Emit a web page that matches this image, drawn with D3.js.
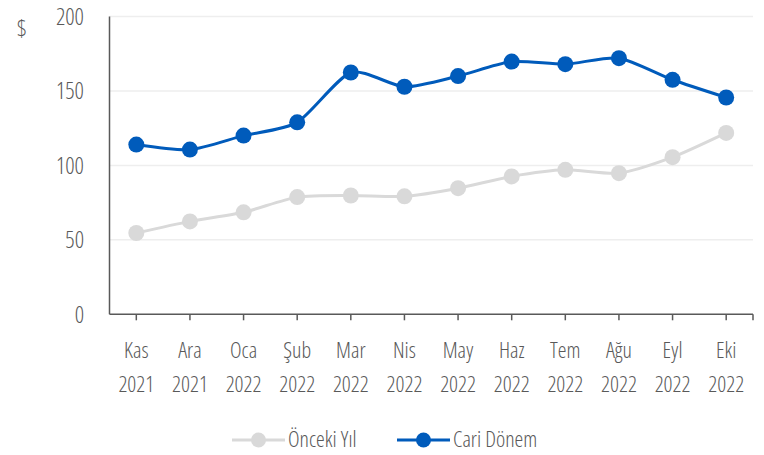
<!DOCTYPE html>
<html>
<head>
<meta charset="utf-8">
<script src="https://cdn.jsdelivr.net/npm/d3@7"></script>
<style>
  body { margin: 0; background: #fff; }
  text { font-family: "Open Sans", sans-serif; font-stretch: 75%; font-weight: 350; fill: #595959; }
</style>
</head>
<body>
<div id="chart"></div>
<script>
var months = ["Kas", "Ara", "Oca", "Şub", "Mar", "Nis", "May", "Haz", "Tem", "Ağu", "Eyl", "Eki"];
var years = ["2021", "2021", "2022", "2022", "2022", "2022", "2022", "2022", "2022", "2022", "2022", "2022"];
var prevYear = [54.6, 62.4, 68.5, 78.7, 79.8, 79.2, 84.7, 92.6, 97, 94.8, 105.5, 121.8];
var current = [114, 110.6, 120, 128.9, 162.4, 152.8, 160, 169.7, 168, 172, 157.5, 145.6];
var yTicks = [0, 50, 100, 150, 200];

var width = 764, height = 455;
var margin = { top: 16.5, right: 11, bottom: 140.7, left: 109.5 };

var svg = d3.select("#chart").append("svg")
    .attr("width", width)
    .attr("height", height);

var x = d3.scaleBand()
    .domain(months.map(function(d, i) { return i; }))
    .range([margin.left, width - margin.right])
    .padding(0);

var y = d3.scaleLinear()
    .domain([0, 200])
    .range([height - margin.bottom, margin.top]);

var cx = function(i) { return x(i) + x.bandwidth() / 2; };

// gridlines
svg.append("g")
    .selectAll("line")
    .data(yTicks.filter(function(d) { return d > 0; }))
    .enter().append("line")
    .attr("x1", x.range()[0])
    .attr("x2", x.range()[1])
    .attr("y1", y)
    .attr("y2", y)
    .attr("stroke", "#eeeeee")
    .attr("stroke-width", 1.5);

// y labels
svg.append("g")
    .selectAll("text")
    .data(yTicks)
    .enter().append("text")
    .attr("x", 84)
    .attr("y", function(d) { return y(d) + 8.5; })
    .attr("text-anchor", "end")
    .attr("font-size", 23)
    .text(function(d) { return d; });

svg.append("text")
    .attr("x", 17)
    .attr("y", 37)
    .attr("font-size", 23)
    .text("$");

// axes lines
var axis = svg.append("g")
    .attr("stroke", "#595959")
    .attr("stroke-width", 1.5);

axis.append("line")
    .attr("x1", x.range()[0]).attr("x2", x.range()[0])
    .attr("y1", y(200)).attr("y2", y(0));

axis.append("line")
    .attr("x1", x.range()[0]).attr("x2", x.range()[1])
    .attr("y1", y(0)).attr("y2", y(0));

axis.selectAll(".tick")
    .data(months.map(function(d, i) { return cx(i); }).concat([x.range()[1]]))
    .enter().append("line")
    .attr("class", "tick")
    .attr("x1", function(d) { return d; })
    .attr("x2", function(d) { return d; })
    .attr("y1", y(0))
    .attr("y2", y(0) + 6);

// x labels
var xl = svg.append("g")
    .selectAll("text")
    .data(months)
    .enter().append("text")
    .attr("text-anchor", "middle")
    .attr("font-size", 22);

xl.append("tspan")
    .attr("x", function(d, i) { return cx(i); })
    .attr("y", 358)
    .text(function(d) { return d; });

xl.append("tspan")
    .attr("x", function(d, i) { return cx(i); })
    .attr("y", 392)
    .text(function(d, i) { return years[i]; });

// lines
var line = d3.line()
    .x(function(d, i) { return cx(i); })
    .y(function(d) { return y(d); })
    .curve(d3.curveCardinal.tension(0.3));

var series = [
    { name: "Önceki Yıl", values: prevYear, color: "#d9d9d9" },
    { name: "Cari Dönem", values: current, color: "#005bbb" }
];

series.forEach(function(s) {
    svg.append("path")
        .datum(s.values)
        .attr("d", line)
        .attr("fill", "none")
        .attr("stroke", s.color)
        .attr("stroke-width", 3);

    svg.append("g")
        .selectAll("circle")
        .data(s.values)
        .enter().append("circle")
        .attr("cx", function(d, i) { return cx(i); })
        .attr("cy", y)
        .attr("r", 8)
        .attr("fill", s.color);
});

// legend
var legendX = [232, 397];
var legend = svg.append("g")
    .selectAll("g")
    .data(series)
    .enter().append("g")
    .attr("transform", function(d, i) { return "translate(" + legendX[i] + ",440)"; });

legend.append("line")
    .attr("x1", 0).attr("x2", 53)
    .attr("stroke", function(d) { return d.color; })
    .attr("stroke-width", 3);

legend.append("circle")
    .attr("cx", 26.5)
    .attr("r", 7.5)
    .attr("fill", function(d) { return d.color; });

legend.append("text")
    .attr("x", 56)
    .attr("y", 6.5)
    .attr("font-size", 22)
    .text(function(d) { return d.name; });
</script>
</body>
</html>
